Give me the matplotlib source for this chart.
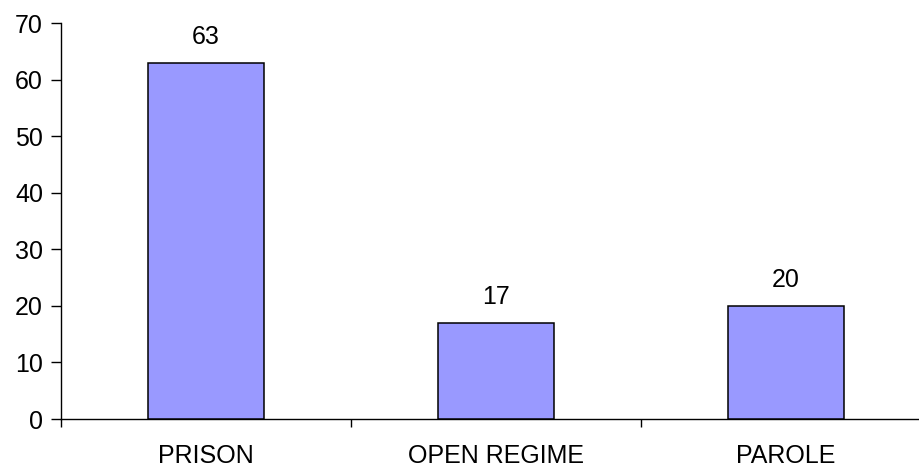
import matplotlib
matplotlib.use("Agg")
import matplotlib.pyplot as plt

categories = ["PRISON", "OPEN REGIME", "PAROLE"]
values = [63, 17, 20]
yticks = [0, 10, 20, 30, 40, 50, 60, 70]

plt.rcParams['font.family'] = ['Liberation Sans', 'DejaVu Sans']

W, H = 919, 469
fig = plt.figure(figsize=(W/100, H/100), dpi=100)
ax = fig.add_axes([61/W, (H-419)/H, (931-61)/W, (419-23)/H])

x = range(len(categories))
ax.bar(x, values, width=0.4, color="#9999FF", edgecolor="black", linewidth=1.1, zorder=3)
for xi, v in zip(x, values):
    ax.annotate(str(v), (xi, v), xytext=(0, 10), textcoords="offset points",
                ha="center", va="bottom", fontsize=18)

ax.set_xlim(-0.5, len(categories) - 0.5)
ax.set_ylim(0, 70)
ax.set_yticks(yticks)
ax.set_yticklabels([str(t) for t in yticks], fontsize=18)
ax.set_xticks([i - 0.5 for i in range(len(categories) + 1)], minor=False)
ax.set_xticklabels([])
ax.set_xticks(list(x), minor=True)
ax.set_xticklabels(categories, minor=True, fontsize=18)
ax.tick_params(axis="x", which="minor", length=0, pad=18)
ax.tick_params(axis="x", which="major", length=6, width=1, direction="out")
ax.tick_params(axis="y", length=7, width=1, direction="out", pad=6)

for s in ["top", "right"]:
    ax.spines[s].set_visible(False)
for s in ["left", "bottom"]:
    ax.spines[s].set_linewidth(1)

fig.savefig("out.png", dpi=100)
